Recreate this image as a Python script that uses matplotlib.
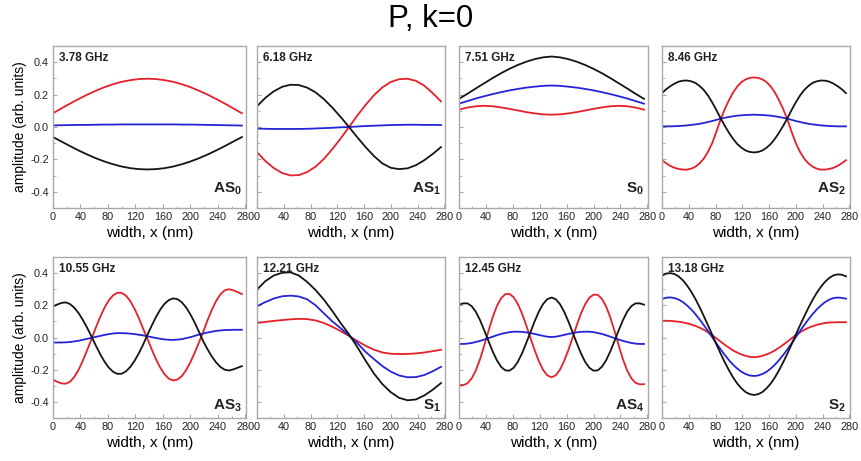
import numpy as np
import matplotlib
matplotlib.use("Agg")
import matplotlib.pyplot as plt
from matplotlib.ticker import MultipleLocator

plt.rcParams["font.family"] = ["Liberation Sans", "DejaVu Sans"]
plt.rcParams["mathtext.fontset"] = "custom"
plt.rcParams["mathtext.rm"] = "Liberation Sans"
plt.rcParams["mathtext.bf"] = "Liberation Sans:bold"

# width positions, nm: 0 ... 275 read every 12.5 nm (smooth modes) or 6.25 nm
x_coarse = np.arange(0, 276, 12.5)
x_fine = np.arange(0, 276, 6.25)

freqs = ["3.78 GHz", "6.18 GHz", "7.51 GHz", "8.46 GHz",
         "10.55 GHz", "12.21 GHz", "12.45 GHz", "13.18 GHz"]
modes = [r"$\mathbf{AS_0}$", r"$\mathbf{AS_1}$", r"$\mathbf{S_0}$", r"$\mathbf{AS_2}$",
         r"$\mathbf{AS_3}$", r"$\mathbf{S_1}$", r"$\mathbf{AS_4}$", r"$\mathbf{S_2}$"]

# AS0, 3.78 GHz (coarse)
black_as0 = [-0.062, -0.090, -0.118, -0.145, -0.170, -0.193, -0.213, -0.230, -0.244, -0.254, -0.260, -0.262,
             -0.260, -0.254, -0.244, -0.230, -0.213, -0.193, -0.170, -0.145, -0.118, -0.090, -0.062]
red_as0 = [0.085, 0.115, 0.145, 0.173, 0.200, 0.224, 0.246, 0.264, 0.279, 0.289, 0.296, 0.298,
           0.296, 0.289, 0.279, 0.264, 0.246, 0.224, 0.200, 0.173, 0.145, 0.115, 0.085]
blue_as0 = [0.010, 0.011, 0.012, 0.013, 0.013, 0.014, 0.015, 0.015, 0.016, 0.016, 0.016, 0.016,
            0.016, 0.016, 0.016, 0.015, 0.015, 0.014, 0.013, 0.012, 0.011, 0.010, 0.009]

# AS1, 6.18 GHz (coarse)
black_as1 = [0.128, 0.180, 0.220, 0.248, 0.261, 0.259, 0.243, 0.214, 0.172, 0.120, 0.062, 0.000,
             -0.064, -0.125, -0.180, -0.225, -0.252, -0.260, -0.255, -0.236, -0.205, -0.167, -0.124]
red_as1 = [-0.155, -0.210, -0.253, -0.284, -0.299, -0.297, -0.278, -0.245, -0.197, -0.137, -0.071, 0.000,
           0.071, 0.137, 0.197, 0.245, 0.278, 0.295, 0.298, 0.285, 0.255, 0.210, 0.158]
blue_as1 = [-0.010, -0.011, -0.012, -0.012, -0.012, -0.012, -0.011, -0.009, -0.007, -0.005, -0.002, 0.000,
            0.003, 0.006, 0.008, 0.010, 0.012, 0.013, 0.014, 0.014, 0.013, 0.013, 0.012]

# S0, 7.51 GHz (coarse)
black_s0 = [0.174, 0.205, 0.238, 0.270, 0.302, 0.332, 0.359, 0.383, 0.403, 0.419, 0.430, 0.435,
            0.430, 0.419, 0.403, 0.383, 0.359, 0.332, 0.302, 0.270, 0.238, 0.205, 0.174]
red_s0 = [0.107, 0.120, 0.128, 0.131, 0.128, 0.121, 0.112, 0.102, 0.092, 0.084, 0.078, 0.076,
          0.078, 0.084, 0.092, 0.102, 0.112, 0.121, 0.128, 0.131, 0.128, 0.120, 0.107]
blue_s0 = [0.144, 0.160, 0.176, 0.190, 0.203, 0.215, 0.226, 0.235, 0.243, 0.249, 0.254, 0.256,
           0.254, 0.249, 0.243, 0.235, 0.226, 0.215, 0.203, 0.190, 0.176, 0.160, 0.144]

# AS2, 8.46 GHz (fine)
black_as2 = [0.209, 0.233, 0.252, 0.268, 0.280, 0.286, 0.287, 0.282, 0.272, 0.253, 0.228, 0.194,
             0.152, 0.105, 0.055, 0.008, -0.035, -0.073, -0.105, -0.128, -0.145, -0.154, -0.157,
             -0.154, -0.145, -0.128, -0.105, -0.073, -0.035, 0.008, 0.055, 0.105, 0.152, 0.194,
             0.228, 0.253, 0.272, 0.282, 0.287, 0.286, 0.280, 0.268, 0.252, 0.233, 0.209]
red_as2 = [-0.205, -0.224, -0.240, -0.252, -0.259, -0.263, -0.263, -0.257, -0.245, -0.224, -0.195, -0.153,
           -0.100, -0.030, 0.045, 0.110, 0.165, 0.213, 0.250, 0.277, 0.294, 0.303, 0.306,
           0.303, 0.294, 0.277, 0.250, 0.213, 0.165, 0.110, 0.045, -0.030, -0.100, -0.153,
           -0.195, -0.224, -0.245, -0.257, -0.263, -0.263, -0.259, -0.252, -0.240, -0.224, -0.205]
blue_as2 = [0.004, 0.004, 0.004, 0.005, 0.006, 0.008, 0.010, 0.013, 0.016, 0.020, 0.025, 0.031,
            0.037, 0.044, 0.051, 0.057, 0.062, 0.066, 0.070, 0.072, 0.074, 0.075, 0.076,
            0.075, 0.074, 0.072, 0.070, 0.066, 0.062, 0.057, 0.051, 0.044, 0.037, 0.031,
            0.025, 0.020, 0.016, 0.013, 0.010, 0.008, 0.006, 0.005, 0.004, 0.004, 0.004]

# AS3, 10.55 GHz (fine)
black_as3 = [0.193, 0.205, 0.215, 0.218, 0.207, 0.184, 0.150, 0.107, 0.058, 0.004, -0.051, -0.104,
             -0.150, -0.187, -0.213, -0.226, -0.225, -0.210, -0.183, -0.145, -0.098, -0.044, 0.017,
             0.074, 0.128, 0.174, 0.210, 0.233, 0.243, 0.238, 0.219, 0.187, 0.144, 0.093,
             0.036, -0.024, -0.073, -0.118, -0.155, -0.183, -0.200, -0.205, -0.198, -0.188, -0.178]
red_as3 = [-0.262, -0.275, -0.285, -0.287, -0.274, -0.243, -0.199, -0.141, -0.076, -0.008, 0.063, 0.128,
           0.185, 0.231, 0.262, 0.278, 0.277, 0.260, 0.226, 0.178, 0.120, 0.055, -0.008,
           -0.074, -0.136, -0.188, -0.229, -0.256, -0.267, -0.261, -0.240, -0.203, -0.154, -0.095,
           -0.031, 0.035, 0.107, 0.172, 0.227, 0.268, 0.293, 0.300, 0.293, 0.282, 0.270]
blue_as3 = [-0.031, -0.031, -0.031, -0.030, -0.028, -0.024, -0.020, -0.014, -0.008, -0.002, 0.004, 0.010,
            0.016, 0.021, 0.025, 0.027, 0.027, 0.026, 0.024, 0.021, 0.017, 0.013, 0.008,
            0.002, -0.003, -0.008, -0.012, -0.014, -0.015, -0.013, -0.010, -0.004, 0.002, 0.010,
            0.018, 0.025, 0.031, 0.036, 0.041, 0.044, 0.046, 0.047, 0.048, 0.048, 0.048]

# S1, 12.21 GHz (coarse)
black_s1 = [0.298, 0.350, 0.385, 0.402, 0.405, 0.385, 0.345, 0.295, 0.235, 0.165, 0.090, 0.020,
            -0.060, -0.145, -0.225, -0.290, -0.340, -0.375, -0.390, -0.385, -0.360, -0.325, -0.283]
red_s1 = [0.090, 0.097, 0.103, 0.108, 0.113, 0.116, 0.114, 0.106, 0.090, 0.067, 0.040, 0.010,
          -0.022, -0.052, -0.076, -0.093, -0.101, -0.103, -0.102, -0.099, -0.093, -0.085, -0.076]
blue_s1 = [0.194, 0.220, 0.242, 0.256, 0.260, 0.255, 0.237, 0.200, 0.150, 0.100, 0.058, 0.012,
           -0.035, -0.090, -0.135, -0.178, -0.212, -0.236, -0.247, -0.246, -0.233, -0.210, -0.182]

# AS4, 12.45 GHz (fine)
black_as4 = [0.204, 0.212, 0.212, 0.195, 0.160, 0.108, 0.045, -0.021, -0.086, -0.141, -0.182, -0.204,
             -0.206, -0.188, -0.151, -0.098, -0.034, 0.034, 0.101, 0.161, 0.208, 0.238, 0.248,
             0.238, 0.208, 0.161, 0.101, 0.034, -0.034, -0.098, -0.151, -0.188, -0.206, -0.204,
             -0.182, -0.141, -0.086, -0.021, 0.045, 0.108, 0.160, 0.195, 0.212, 0.212, 0.204]
red_as4 = [-0.295, -0.296, -0.285, -0.255, -0.205, -0.135, -0.050, 0.040, 0.125, 0.195, 0.243, 0.269,
           0.271, 0.250, 0.208, 0.148, 0.075, -0.003, -0.079, -0.147, -0.201, -0.235, -0.247,
           -0.235, -0.201, -0.147, -0.079, -0.003, 0.075, 0.148, 0.206, 0.247, 0.266, 0.265,
           0.240, 0.193, 0.124, 0.040, -0.050, -0.135, -0.205, -0.253, -0.282, -0.291, -0.290]
blue_as4 = [-0.040, -0.040, -0.038, -0.034, -0.028, -0.021, -0.013, -0.004, 0.005, 0.014, 0.022, 0.028,
            0.033, 0.036, 0.036, 0.035, 0.032, 0.027, 0.022, 0.016, 0.010, 0.005, 0.003,
            0.005, 0.010, 0.016, 0.022, 0.027, 0.032, 0.035, 0.036, 0.036, 0.033, 0.028,
            0.022, 0.014, 0.005, -0.004, -0.013, -0.021, -0.028, -0.034, -0.038, -0.040, -0.040]

# S2, 13.18 GHz (fine)
black_s2 = [0.384, 0.397, 0.400, 0.394, 0.379, 0.355, 0.323, 0.284, 0.239, 0.188, 0.133, 0.076,
            0.017, -0.042, -0.099, -0.153, -0.203, -0.248, -0.286, -0.316, -0.339, -0.352, -0.357,
            -0.352, -0.339, -0.316, -0.286, -0.248, -0.203, -0.153, -0.099, -0.042, 0.017, 0.075,
            0.130, 0.184, 0.233, 0.277, 0.315, 0.346, 0.370, 0.386, 0.392, 0.390, 0.380]
red_s2 = [0.104, 0.104, 0.103, 0.101, 0.098, 0.094, 0.088, 0.081, 0.072, 0.061, 0.048, 0.032,
          0.015, -0.005, -0.025, -0.045, -0.063, -0.080, -0.094, -0.105, -0.114, -0.120, -0.122,
          -0.120, -0.114, -0.105, -0.094, -0.080, -0.063, -0.045, -0.025, -0.005, 0.015, 0.032,
          0.047, 0.060, 0.070, 0.078, 0.085, 0.090, 0.093, 0.094, 0.095, 0.095, 0.095]
blue_s2 = [0.239, 0.247, 0.249, 0.245, 0.235, 0.220, 0.199, 0.174, 0.145, 0.112, 0.077, 0.040,
           0.002, -0.036, -0.073, -0.108, -0.140, -0.169, -0.193, -0.213, -0.227, -0.236, -0.239,
           -0.236, -0.227, -0.213, -0.193, -0.169, -0.140, -0.108, -0.073, -0.036, 0.002, 0.040,
           0.077, 0.112, 0.145, 0.174, 0.199, 0.220, 0.235, 0.245, 0.248, 0.246, 0.241]

panels = [
    (x_coarse, black_as0, red_as0, blue_as0), (x_coarse, black_as1, red_as1, blue_as1),
    (x_coarse, black_s0, red_s0, blue_s0), (x_fine, black_as2, red_as2, blue_as2),
    (x_fine, black_as3, red_as3, blue_as3), (x_coarse, black_s1, red_s1, blue_s1),
    (x_fine, black_as4, red_as4, blue_as4), (x_fine, black_s2, red_s2, blue_s2),
]

W, H = 862, 461
col_left = [53, 257, 459, 662]
col_width = [193, 188, 189, 188]
row_top = [46, 257]
row_height = [162, 161]
mode_y = [0.065, 0.025]  # mode labels sit lower in the bottom row

c_black = "#141414"
c_red = "#e5202a"
c_blue = "#2424d6"
frame = "#a9a9a9"

fig = plt.figure(figsize=(W / 100, H / 100), dpi=100)
fig.text(0.5, 1 - 19 / H, "P, k=0", ha="center", va="center", fontsize=22.5)

for i, (xs, blk, red, blu) in enumerate(panels):
    r, c = divmod(i, 4)
    ax = fig.add_axes([col_left[c] / W, 1 - (row_top[r] + row_height[r]) / H,
                       col_width[c] / W, row_height[r] / H])
    ax.plot(xs, red, color=c_red, lw=1.3)
    ax.plot(xs, blu, color=c_blue, lw=1.3)
    ax.plot(xs, blk, color=c_black, lw=1.3)

    ax.set_xlim(0, 281)
    ax.set_ylim(-0.5, 0.5)
    ax.xaxis.set_major_locator(MultipleLocator(40))
    ax.xaxis.set_minor_locator(MultipleLocator(20))
    ax.yaxis.set_major_locator(MultipleLocator(0.2))
    ax.yaxis.set_minor_locator(MultipleLocator(0.1))
    ax.tick_params(which="both", direction="in", color=frame, labelsize=7.8,
                   labelcolor="#222222", pad=3)
    ax.tick_params(which="major", length=3)
    ax.tick_params(which="minor", length=1.8)
    for s in ax.spines.values():
        s.set_color(frame)
        s.set_linewidth(1.0)

    if c == 0:
        ax.set_yticklabels([f"{v:.1f}" for v in ax.get_yticks()])
        ax.set_ylabel("amplitude (arb. units)", fontsize=10, labelpad=2)
    else:
        ax.set_yticklabels([])
    ax.set_xlabel("width, x (nm)", fontsize=11, labelpad=3)

    ax.text(0.03, 0.965, freqs[i], transform=ax.transAxes, ha="left", va="top",
            fontsize=8.5, fontweight="bold", color="#222222")
    ax.text(0.98, mode_y[r], modes[i], transform=ax.transAxes, ha="right", va="bottom",
            fontsize=11, color="#222222")

fig.savefig("out.png", dpi=100)
